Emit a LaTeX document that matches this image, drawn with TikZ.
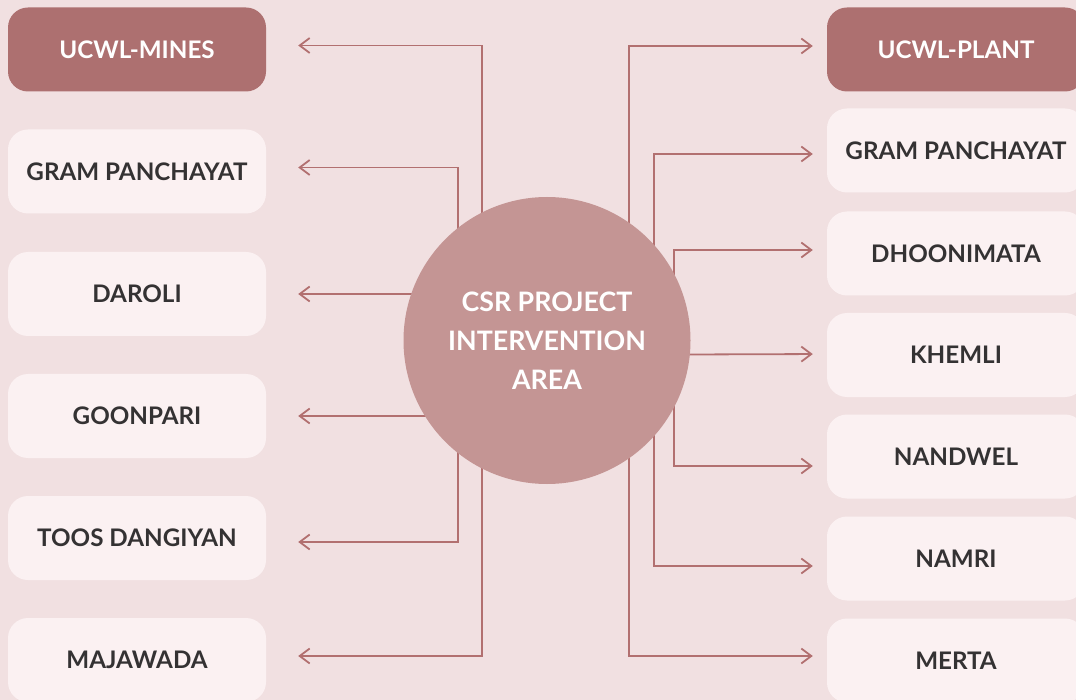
\documentclass[tikz,border=0pt]{standalone}
\usepackage{fontspec}
\setmainfont{Lato}
\usetikzlibrary{arrows.meta}
\definecolor{bgc}{RGB}{241,224,225}
\definecolor{darkbox}{RGB}{173,112,112}
\definecolor{lightbox}{RGB}{251,241,242}
\definecolor{circc}{RGB}{196,149,148}
\definecolor{linec}{RGB}{178,112,112}
\definecolor{txt}{RGB}{52,50,51}
\pgfdeclarelayer{bg}
\pgfdeclarelayer{lines}
\pgfsetlayers{bg,lines,main}
\tikzset{
  boxbase/.style={rounded corners=20pt, minimum width=258pt, minimum height=84pt, inner sep=0pt,
    font=\fontsize{24.2}{29}\selectfont\bfseries},
  darkbx/.style={boxbase, fill=darkbox, text=white},
  lightbx/.style={boxbase, fill=lightbox, text=txt},
  hub/.style={circle, fill=circc, minimum size=287pt, inner sep=0pt, text=white, align=center,
    font=\fontsize{26.8}{39}\selectfont\bfseries},
  conn/.style={draw=linec, line width=1.8pt, -{Straight Barb[length=10pt,width=15pt]}},
  connL/.style={conn, shorten >=32pt},
  connR/.style={conn, shorten >=14pt},
}
\begin{document}
\begin{tikzpicture}[x=1pt,y=-1pt]
\useasboundingbox (0,0) rectangle (1076,700);
\clip (0,0) rectangle (1076,700);
\begin{pgfonlayer}{bg}
\fill[bgc] (0,0) rectangle (1076,700);
\end{pgfonlayer}
% left boxes
\node[darkbx]  (mines) at (137,49.5) {UCWL-MINES};
\node[lightbx] (gpl)   at (137,171.5) {GRAM PANCHAYAT};
\node[lightbx] (daroli) at (137,294) {DAROLI};
\node[lightbx] (goon)  at (137,416) {GOONPARI};
\node[lightbx] (toos)  at (137,538) {TOOS DANGIYAN};
\node[lightbx] (maja)  at (137,660) {MAJAWADA};
% right boxes
\node[darkbx]  (plant) at (956,49.5) {UCWL-PLANT};
\node[lightbx] (gpr)   at (956,150.5) {GRAM PANCHAYAT};
\node[lightbx] (dhoon) at (956,253.5) {DHOONIMATA};
\node[lightbx] (khem)  at (956,355) {KHEMLI};
\node[lightbx] (nand)  at (956,456.5) {NANDWEL};
\node[lightbx] (namri) at (956,558.5) {NAMRI};
\node[lightbx] (merta) at (956,660.5) {MERTA};
% hub
\node[hub] (c) at (547,340.5) {CSR PROJECT\\INTERVENTION\\AREA};
% trunk x positions
\coordinate (L1) at (482,0);
\coordinate (L2) at (458,0);
\coordinate (R1) at (629,0);
\coordinate (R2) at (654,0);
\coordinate (R3) at (674,0);
\begin{pgfonlayer}{lines}
\draw[connL] (c.center -| L1) |- ([yshift=4pt]mines.east);
\draw[connL] (c.center -| L2) |- ([yshift=4pt]gpl.east);
\draw[connL] (c.center |- daroli.east) -- (daroli.east);
\draw[connL] (c.center |- goon.east) -- (goon.east);
\draw[connL] (c.center -| L2) |- ([yshift=-4pt]toos.east);
\draw[connL] (c.center -| L1) |- ([yshift=4pt]maja.east);
\draw[connR] (c.center -| R1) |- ([yshift=3.5pt]plant.west);
\draw[connR] (c.center -| R2) |- ([yshift=-3.5pt]gpr.west);
\draw[connR] (c.center -| R3) |- ([yshift=3.5pt]dhoon.west);
\draw[connR] (c.center |- khem.west) -- ([yshift=1pt]khem.west);
\draw[connR] (c.center -| R3) |- ([yshift=-9.5pt]nand.west);
\draw[connR] (c.center -| R2) |- ([yshift=-7.5pt]namri.west);
\draw[connR] (c.center -| R1) |- ([yshift=4.5pt]merta.west);
\end{pgfonlayer}
\end{tikzpicture}
\end{document}
